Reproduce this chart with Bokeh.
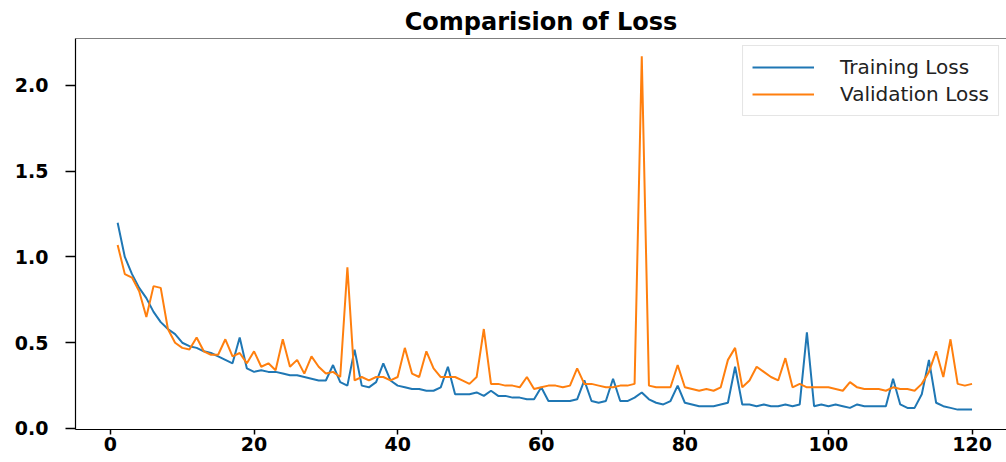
from bokeh.plotting import figure
from bokeh.models import Range1d, FixedTicker, Legend, LegendItem, Span
from bokeh.embed import file_html
from bokeh.resources import INLINE

epochs = list(range(1, 121))

training_loss = [
    1.20, 1.00, 0.90, 0.82, 0.76, 0.68, 0.62, 0.58, 0.55, 0.50,
    0.48, 0.47, 0.45, 0.44, 0.42, 0.40, 0.38, 0.53, 0.35, 0.33,
    0.34, 0.33, 0.33, 0.32, 0.31, 0.31, 0.30, 0.29, 0.28, 0.28,
    0.37, 0.27, 0.25, 0.46, 0.25, 0.24, 0.27, 0.38, 0.28, 0.25,
    0.24, 0.23, 0.23, 0.22, 0.22, 0.24, 0.36, 0.20, 0.20, 0.20,
    0.21, 0.19, 0.22, 0.19, 0.19, 0.18, 0.18, 0.17, 0.17, 0.24,
    0.16, 0.16, 0.16, 0.16, 0.17, 0.28, 0.16, 0.15, 0.16, 0.29,
    0.16, 0.16, 0.18, 0.21, 0.17, 0.15, 0.14, 0.16, 0.25, 0.15,
    0.14, 0.13, 0.13, 0.13, 0.14, 0.15, 0.36, 0.14, 0.14, 0.13,
    0.14, 0.13, 0.13, 0.14, 0.13, 0.14, 0.56, 0.13, 0.14, 0.13,
    0.14, 0.13, 0.12, 0.14, 0.13, 0.13, 0.13, 0.13, 0.29, 0.14,
    0.12, 0.12, 0.20, 0.40, 0.15, 0.13, 0.12, 0.11, 0.11, 0.11,
]

validation_loss = [
    1.07, 0.90, 0.88, 0.80, 0.65, 0.83, 0.82, 0.58, 0.50, 0.47,
    0.46, 0.53, 0.45, 0.43, 0.43, 0.52, 0.42, 0.44, 0.38, 0.45,
    0.36, 0.38, 0.34, 0.52, 0.36, 0.40, 0.32, 0.42, 0.36, 0.32,
    0.33, 0.30, 0.94, 0.28, 0.30, 0.28, 0.30, 0.30, 0.28, 0.30,
    0.47, 0.32, 0.30, 0.45, 0.35, 0.30, 0.30, 0.30, 0.28, 0.26,
    0.30, 0.58, 0.26, 0.26, 0.25, 0.25, 0.24, 0.30, 0.23, 0.24,
    0.25, 0.25, 0.24, 0.25, 0.35, 0.26, 0.26, 0.25, 0.24, 0.24,
    0.25, 0.25, 0.26, 2.17, 0.25, 0.24, 0.24, 0.24, 0.37, 0.24,
    0.23, 0.22, 0.23, 0.22, 0.24, 0.40, 0.47, 0.24, 0.28, 0.36,
    0.33, 0.30, 0.28, 0.41, 0.24, 0.26, 0.24, 0.24, 0.24, 0.24,
    0.23, 0.22, 0.27, 0.24, 0.23, 0.23, 0.23, 0.22, 0.24, 0.23,
    0.23, 0.22, 0.26, 0.33, 0.45, 0.30, 0.52, 0.26, 0.25, 0.26,
]

x_ticks = [0, 20, 40, 60, 80, 100, 120]
y_ticks = [0.0, 0.5, 1.0, 1.5, 2.0]
y_tick_labels = {0.0: "0.0", 0.5: "0.5", 1.0: "1.0", 1.5: "1.5", 2.0: "2.0"}

Y_TOP = 2.274

p = figure(
    width=1006, height=462,
    output_backend="svg", toolbar_location=None,
    x_range=Range1d(-4.87, 124.8), y_range=Range1d(-0.006, Y_TOP),
    title="Comparision of Loss",
    min_border_left=75, min_border_right=0, min_border_top=38, min_border_bottom=33,
)

p.title.align = "center"
p.title.text_font = "DejaVu Sans"
p.title.text_font_size = "24px"
p.title.text_font_style = "bold"
p.title.text_color = "black"
p.title.standoff = 5

p.xgrid.visible = False
p.ygrid.visible = False
p.outline_line_color = None
p.add_layout(Span(location=Y_TOP, dimension="width", line_color="black", line_width=1.2))

for ax in (p.xaxis, p.yaxis):
    ax.axis_line_color = "black"
    ax.axis_line_width = 1.2
    ax.major_tick_line_color = "black"
    ax.major_tick_line_width = 1.5
    ax.minor_tick_line_color = None
    ax.major_tick_in = 0
    ax.major_label_text_font = "DejaVu Sans"
    ax.major_label_text_font_style = "bold"
    ax.major_label_text_font_size = "19px"
    ax.major_label_text_color = "black"

p.xaxis.ticker = FixedTicker(ticks=x_ticks)
p.xaxis.major_tick_out = 5
p.xaxis.major_label_standoff = 2
p.yaxis.ticker = FixedTicker(ticks=y_ticks)
p.yaxis.major_label_overrides = y_tick_labels
p.yaxis.major_tick_out = 10
p.yaxis.major_label_standoff = 17

r1 = p.line(epochs, training_loss, line_color="#1f77b4", line_width=2)
r2 = p.line(epochs, validation_loss, line_color="#ff7f0e", line_width=2)

legend = Legend(
    items=[LegendItem(label="Training Loss", renderers=[r1]),
           LegendItem(label="Validation Loss", renderers=[r2])],
    location="top_right",
    label_text_font="DejaVu Sans",
    label_text_font_size="20px",
    label_text_color="#222222",
    glyph_width=62, glyph_height=22,
    label_standoff=26, spacing=3, padding=9, margin=7,
    border_line_color="#cccccc", border_line_width=1,
    background_fill_color="white", background_fill_alpha=0.9,
)
p.add_layout(legend)

open("out.html", "w").write(file_html(p, INLINE))
